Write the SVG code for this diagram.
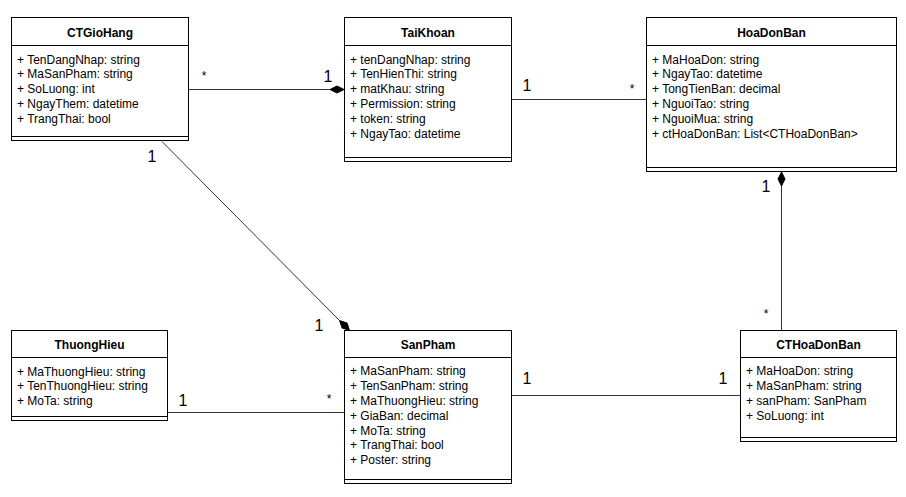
<svg xmlns="http://www.w3.org/2000/svg" width="906" height="497" viewBox="0 0 906 497">
<style>
.box{fill:#fff;stroke:#000;stroke-width:1}
.sep{stroke:#000;stroke-width:1;fill:none}
.title{font-family:"Liberation Sans",Arial,sans-serif;font-size:12px;font-weight:bold;text-anchor:middle;fill:#000}
.attr{font-family:"Liberation Sans",Arial,sans-serif;font-size:12px;fill:#000}
.conn{stroke:#333;stroke-width:1;fill:none}
.dia{fill:#000;stroke:#000;stroke-width:1}
.mult{font-family:"Liberation Sans",Arial,sans-serif;font-size:16px;text-anchor:middle;fill:#000}
.star{font-family:"Liberation Sans",Arial,sans-serif;font-size:12px;text-anchor:middle;fill:#000}
</style>
<rect width="906" height="497" fill="#fff"/>
<g id="connectors">
  <line class="conn" x1="188" y1="89.5" x2="330" y2="89.5"/>
  <polygon class="dia" points="344,89.5 337,86 330,89.5 337,93"/>
  <text class="star" x="204" y="80">*</text>
  <text class="mult" x="328" y="81.5">1</text>

  <line class="conn" x1="512" y1="99.5" x2="647" y2="99.5"/>
  <text class="mult" x="527" y="90.5">1</text>
  <text class="star" x="632" y="93">*</text>

  <line class="conn" x1="781.5" y1="186" x2="781.5" y2="331"/>
  <polygon class="dia" points="781.5,172 785,179 781.5,186 778,179"/>
  <text class="mult" x="766" y="191.5">1</text>
  <text class="star" x="766" y="318">*</text>

  <line class="conn" x1="162" y1="141.5" x2="339.6" y2="320.6"/>
  <polygon class="dia" points="349.5,330.5 347.1,323 339.6,320.6 342.1,328"/>
  <text class="mult" x="152" y="161.5">1</text>
  <text class="mult" x="319" y="330.5">1</text>

  <line class="conn" x1="167" y1="412.5" x2="344" y2="412.5"/>
  <text class="mult" x="183" y="405.5">1</text>
  <text class="star" x="329" y="403">*</text>

  <line class="conn" x1="512" y1="395.5" x2="741" y2="395.5"/>
  <text class="mult" x="527" y="384">1</text>
  <text class="mult" x="723" y="384">1</text>
</g>
<g id="CTGioHang">
  <rect class="box" x="11.5" y="17.5" width="177" height="123"/>
  <line class="sep" x1="11.5" y1="45.5" x2="188.5" y2="45.5"/>
  <line class="sep" x1="11.5" y1="136.5" x2="188.5" y2="136.5"/>
  <text class="title" x="100" y="36.5">CTGioHang</text>
  <text class="attr" x="17" y="63.5">+ TenDangNhap: string</text>
  <text class="attr" x="17" y="78.3">+ MaSanPham: string</text>
  <text class="attr" x="17" y="93.1">+ SoLuong: int</text>
  <text class="attr" x="17" y="107.9">+ NgayThem: datetime</text>
  <text class="attr" x="17" y="122.7">+ TrangThai: bool</text>
</g>
<g id="TaiKhoan">
  <rect class="box" x="344.5" y="17.5" width="167" height="144"/>
  <line class="sep" x1="344.5" y1="45.5" x2="511.5" y2="45.5"/>
  <line class="sep" x1="344.5" y1="157.5" x2="511.5" y2="157.5"/>
  <text class="title" x="428" y="36.5">TaiKhoan</text>
  <text class="attr" x="350" y="63.5">+ tenDangNhap: string</text>
  <text class="attr" x="350" y="78.3">+ TenHienThi: string</text>
  <text class="attr" x="350" y="93.1">+ matKhau: string</text>
  <text class="attr" x="350" y="107.9">+ Permission: string</text>
  <text class="attr" x="350" y="122.7">+ token: string</text>
  <text class="attr" x="350" y="137.5">+ NgayTao: datetime</text>
</g>
<g id="HoaDonBan">
  <rect class="box" x="646.5" y="17.5" width="250" height="154"/>
  <line class="sep" x1="646.5" y1="45.5" x2="896.5" y2="45.5"/>
  <line class="sep" x1="646.5" y1="167.5" x2="896.5" y2="167.5"/>
  <text class="title" x="771.5" y="36.5">HoaDonBan</text>
  <text class="attr" x="652" y="63.5">+ MaHoaDon: string</text>
  <text class="attr" x="652" y="78.3">+ NgayTao: datetime</text>
  <text class="attr" x="652" y="93.1">+ TongTienBan: decimal</text>
  <text class="attr" x="652" y="107.9">+ NguoiTao: string</text>
  <text class="attr" x="652" y="122.7">+ NguoiMua: string</text>
  <text class="attr" x="652" y="137.5">+ ctHoaDonBan: List&lt;CTHoaDonBan&gt;</text>
</g>
<g id="ThuongHieu">
  <rect class="box" x="11.5" y="330.5" width="156" height="90"/>
  <line class="sep" x1="11.5" y1="357.5" x2="167.5" y2="357.5"/>
  <line class="sep" x1="11.5" y1="416.5" x2="167.5" y2="416.5"/>
  <text class="title" x="89.5" y="349">ThuongHieu</text>
  <text class="attr" x="17" y="375.8">+ MaThuongHieu: string</text>
  <text class="attr" x="17" y="390.4">+ TenThuongHieu: string</text>
  <text class="attr" x="17" y="405">+ MoTa: string</text>
</g>
<g id="SanPham">
  <rect class="box" x="344.5" y="330.5" width="167" height="153"/>
  <line class="sep" x1="344.5" y1="357.5" x2="511.5" y2="357.5"/>
  <line class="sep" x1="344.5" y1="479.5" x2="511.5" y2="479.5"/>
  <text class="title" x="428" y="348.5">SanPham</text>
  <text class="attr" x="350" y="375.3">+ MaSanPham: string</text>
  <text class="attr" x="350" y="390.1">+ TenSanPham: string</text>
  <text class="attr" x="350" y="404.9">+ MaThuongHieu: string</text>
  <text class="attr" x="350" y="419.7">+ GiaBan: decimal</text>
  <text class="attr" x="350" y="434.5">+ MoTa: string</text>
  <text class="attr" x="350" y="449.3">+ TrangThai: bool</text>
  <text class="attr" x="350" y="464.1">+ Poster: string</text>
</g>
<g id="CTHoaDonBan">
  <rect class="box" x="740.5" y="330.5" width="156" height="111"/>
  <line class="sep" x1="740.5" y1="357.5" x2="896.5" y2="357.5"/>
  <line class="sep" x1="740.5" y1="437.5" x2="896.5" y2="437.5"/>
  <text class="title" x="818.5" y="349">CTHoaDonBan</text>
  <text class="attr" x="746" y="375.3">+ MaHoaDon: string</text>
  <text class="attr" x="746" y="390.1">+ MaSanPham: string</text>
  <text class="attr" x="746" y="404.9">+ sanPham: SanPham</text>
  <text class="attr" x="746" y="419.7">+ SoLuong: int</text>
</g>
</svg>
